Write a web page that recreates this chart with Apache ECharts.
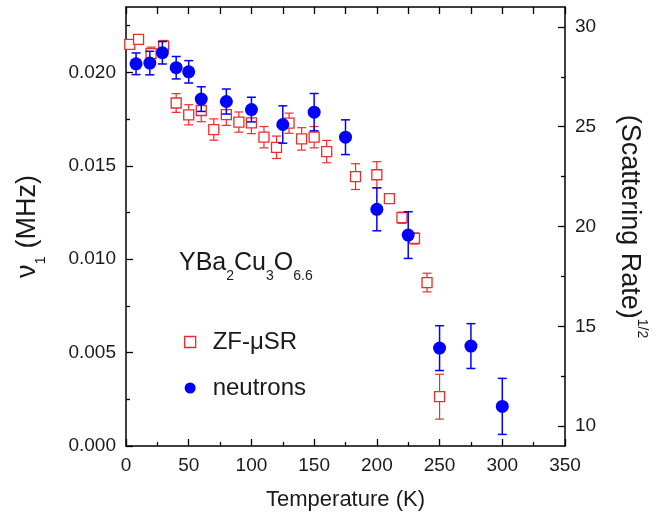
<!DOCTYPE html>
<html>
<head>
<meta charset="utf-8">
<script src="https://cdn.jsdelivr.net/npm/echarts@6/dist/echarts.min.js"></script>
<style>
  html, body { margin: 0; padding: 0; background: #fff; }
  #chart { width: 672px; height: 516px; }
</style>
</head>
<body>
<div id="chart"></div>
<script>
// ZF-muSR points: temperature (K), nu1 (MHz), error
const muT = [3, 10, 20, 30, 40, 50, 60, 70, 80, 90, 100, 110, 120, 130, 140, 150, 160, 183, 200, 210, 220, 230, 240, 250];
const muNu = [0.0215, 0.02177, 0.0210, 0.02141, 0.01836, 0.01773, 0.01796, 0.01694, 0.01774, 0.01734, 0.0173, 0.01653,
  0.01599, 0.01728, 0.01644, 0.01653, 0.01576, 0.01442, 0.01452, 0.01324, 0.01222, 0.01111, 0.00875, 0.00264];
const muErr = [0.0002, 0.0002, 0.00035, 0.0003, 0.0005, 0.00054, 0.0006, 0.00057, 0.00058, 0.00054, 0.00058, 0.00057,
  0.0006, 0.00054, 0.0006, 0.00057, 0.0006, 0.00069, 0.0007, 0.00025, 0.0003, 0.0003, 0.0005, 0.0012];

// neutron points
const nT = [8, 19, 29, 40, 50, 60, 80, 100, 125, 150, 175, 200, 225, 250, 275, 300];
const nNu = [0.02046, 0.0205, 0.02105, 0.02025, 0.02003, 0.01857, 0.01844, 0.01801, 0.01721, 0.01787, 0.01653,
  0.01267, 0.01129, 0.00524, 0.00535, 0.00212];
const nErr = [0.00058, 0.00063, 0.0006, 0.0006, 0.0006, 0.00066, 0.00067, 0.00066, 0.001, 0.001, 0.00093,
  0.00115, 0.00125, 0.0012, 0.0012, 0.0015];

// tick values
const leftTicks = [0, 0.005, 0.010, 0.015, 0.020];
const leftMinor = [0.0025, 0.0075, 0.0125, 0.0175, 0.0225];
const rightTicks = [10, 15, 20, 25, 30];
const rightMinor = [12.5, 17.5, 22.5, 27.5];

const RED = '#ee2c2c';
const BLUE = '#0000ff';
const FONT = 'Liberation Sans, Arial, sans-serif';
const INK = '#1a1a1a';

const chart = echarts.init(document.getElementById('chart'));

function errBars(color, w) {
  return function (params, api) {
    const x = api.value(0);
    const p1 = api.coord([x, api.value(2)]);
    const p2 = api.coord([x, api.value(1)]);
    const c = 4.5;
    const st = { stroke: color, lineWidth: w };
    return {
      type: 'group',
      children: [
        { type: 'line', shape: { x1: p1[0], y1: p1[1], x2: p2[0], y2: p2[1] }, style: st },
        { type: 'line', shape: { x1: p1[0] - c, y1: p1[1], x2: p1[0] + c, y2: p1[1] }, style: st },
        { type: 'line', shape: { x1: p2[0] - c, y1: p2[1], x2: p2[0] + c, y2: p2[1] }, style: st }
      ]
    };
  };
}

const axisLine = { show: true, onZero: false, lineStyle: { color: '#000', width: 1.5 } };
const tickStyle = { color: '#000', width: 1.3 };

const option = {
  animation: false,
  backgroundColor: '#fff',
  grid: { left: 122, right: 107, top: 7, bottom: 69 },
  legend: {
    orient: 'vertical',
    left: 179,
    top: 323,
    itemWidth: 11,
    itemHeight: 11,
    itemGap: 18,
    selectedMode: false,
    textStyle: { fontFamily: FONT, fontSize: 24, color: INK, lineHeight: 28, padding: [0, 0, 0, 12] },
    data: [
      { name: 'ZF-μSR', icon: 'rect', itemStyle: { color: '#fff', borderColor: RED, borderWidth: 1.3 } },
      { name: 'neutrons', icon: 'circle', itemStyle: { color: BLUE } }
    ]
  },
  graphic: [{
    type: 'text',
    left: 179,
    top: 251,
    style: {
      text: '{m|YBa}{s|2}{m|Cu}{s|3}{m|O}{s|6.6}',
      fill: INK,
      rich: {
        m: { fontFamily: FONT, fontSize: 25, lineHeight: 40, verticalAlign: 'middle', fill: INK },
        s: { fontFamily: FONT, fontSize: 14, lineHeight: 14, verticalAlign: 'bottom', fill: INK }
      }
    }
  }],
  xAxis: [{
    type: 'value', min: 0, max: 350, interval: 50,
    name: 'Temperature (K)', nameLocation: 'middle', nameGap: 43,
    nameTextStyle: { fontFamily: FONT, fontSize: 22, color: INK },
    axisLine: axisLine,
    axisTick: { inside: true, length: 7, lineStyle: tickStyle },
    minorTick: { show: true, splitNumber: 2, length: 4, lineStyle: tickStyle },
    axisLabel: { fontFamily: FONT, fontSize: 19, color: INK, margin: 10 },
    splitLine: { show: false }
  }, {
    type: 'value', min: 0, max: 350, interval: 25, position: 'top',
    axisLine: axisLine,
    axisTick: { inside: true, length: 7, lineStyle: tickStyle },
    axisLabel: { show: false },
    splitLine: { show: false }
  }],
  yAxis: [{
    type: 'value', min: 0, max: 0.0235, position: 'left',
    name: '{nu|ν}{sub|1}{t| (MHz)}', nameLocation: 'middle', nameGap: 78, nameRotate: 90,
    nameTextStyle: {
      fontFamily: FONT, fontSize: 27, color: INK, lineHeight: 40,
      rich: {
        nu: { fontFamily: FONT, fontSize: 27, color: INK, lineHeight: 40, verticalAlign: 'middle' },
        sub: { fontFamily: FONT, fontSize: 15, color: INK, lineHeight: 15, verticalAlign: 'bottom' },
        t: { fontFamily: FONT, fontSize: 27, color: INK, lineHeight: 40, verticalAlign: 'middle' }
      }
    },
    axisLine: axisLine,
    axisTick: { inside: true, length: 7, customValues: leftTicks, lineStyle: tickStyle },
    axisLabel: {
      fontFamily: FONT, fontSize: 19, color: INK, margin: 10, customValues: leftTicks,
      formatter: v => v.toFixed(3)
    },
    splitLine: { show: false }
  }, {
    type: 'value', min: 9, max: 31, position: 'right',
    name: '{t|(Scattering Rate)}{sup|1/2}', nameLocation: 'middle', nameGap: 44, nameRotate: -90,
    nameTextStyle: {
      fontFamily: FONT, fontSize: 27, color: INK, lineHeight: 40,
      rich: {
        t: { fontFamily: FONT, fontSize: 27, color: INK, lineHeight: 40, verticalAlign: 'middle' },
        sup: { fontFamily: FONT, fontSize: 14, color: INK, lineHeight: 14, verticalAlign: 'top' }
      }
    },
    axisLine: axisLine,
    axisTick: { inside: true, length: 7, customValues: rightTicks, lineStyle: tickStyle },
    axisLabel: { fontFamily: FONT, fontSize: 19, color: INK, margin: 10, customValues: rightTicks },
    splitLine: { show: false }
  }, {
    type: 'value', min: 0, max: 0.0235, position: 'left',
    axisLine: { show: false, onZero: false },
    axisTick: { inside: true, length: 4, customValues: leftMinor, lineStyle: tickStyle },
    axisLabel: { show: false },
    splitLine: { show: false }
  }, {
    type: 'value', min: 9, max: 31, position: 'right',
    axisLine: { show: false, onZero: false },
    axisTick: { inside: true, length: 4, customValues: rightMinor, lineStyle: tickStyle },
    axisLabel: { show: false },
    splitLine: { show: false }
  }],
  series: [{
    type: 'custom',
    name: 'muErr',
    renderItem: errBars(RED, 1.2),
    data: muT.map((t, i) => [t, muNu[i] - muErr[i], muNu[i] + muErr[i]]),
    encode: { x: 0, y: [1, 2] },
    z: 2, silent: true
  }, {
    type: 'scatter',
    name: 'ZF-μSR',
    symbol: 'rect',
    symbolSize: 10,
    itemStyle: { color: '#fff', borderColor: RED, borderWidth: 1.3, opacity: 1 },
    data: muT.map((t, i) => [t, muNu[i]]),
    z: 3
  }, {
    type: 'custom',
    name: 'nErr',
    renderItem: errBars(BLUE, 1.5),
    data: nT.map((t, i) => [t, nNu[i] - nErr[i], nNu[i] + nErr[i]]),
    encode: { x: 0, y: [1, 2] },
    z: 4, silent: true
  }, {
    type: 'scatter',
    name: 'neutrons',
    symbol: 'circle',
    symbolSize: 13,
    itemStyle: { color: BLUE, opacity: 1 },
    data: nT.map((t, i) => [t, nNu[i]]),
    z: 5
  }]
};

chart.setOption(option);
</script>
</body>
</html>
